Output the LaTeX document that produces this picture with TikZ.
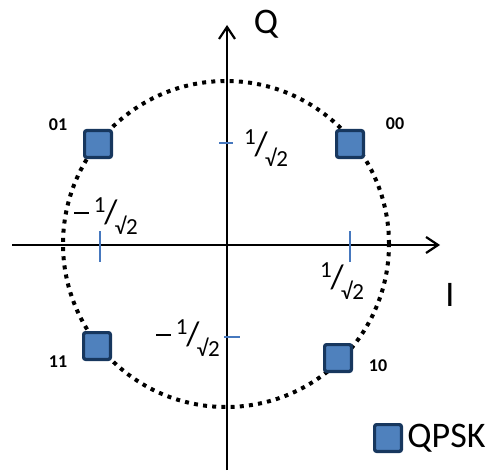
\documentclass[tikz,border=0pt]{standalone}
\usepackage{fontspec}
\setmainfont{Carlito}
\usetikzlibrary{positioning, arrows.meta, calc}
\definecolor{symfill}{RGB}{79,129,189}
\definecolor{symedge}{RGB}{23,55,94}
\definecolor{tickblue}{RGB}{70,120,190}
\newcommand{\halfroot}{\raisebox{0.5em}{1}\kern-0.05em{\fontsize{17}{17}\selectfont/}\kern-0.12em\raisebox{-0.45em}{√2}}
\newcommand{\neghalfroot}{\rule[0.42em]{0.65em}{0.08em}\kern0.2em\halfroot}

\begin{document}
\begin{tikzpicture}[
    x=0.5pt, y=-0.5pt,
    >={Straight Barb[length=6pt,width=8pt]},
    symbol/.style={
        draw=symedge,
        fill=symfill,
        line width=1.6pt,
        rounded corners=1pt,
        minimum size=13.4pt,
        inner sep=0pt
    },
    bits/.style={font=\fontsize{9}{9}\selectfont\bfseries, inner sep=0pt},
    axislabel/.style={font=\fontsize{18}{18}\selectfont, inner sep=0pt},
    frac/.style={font=\fontsize{11.5}{11.5}\selectfont, inner sep=0pt},
    tickmark/.style={draw=tickblue, line width=0.8pt}
]
  \useasboundingbox (0,0) rectangle (496,470);

  % axes
  \coordinate (O) at (226,245);
  \coordinate (west) at (12,245);
  \coordinate (east) at (440,245);
  \coordinate (south) at (227,470);
  \coordinate (north) at (227,25);
  \draw[->,line width=1.1pt] (west) -- (east);
  \draw[->,line width=1.1pt] (south) -- (north);
  \node[axislabel] (qlab) at (266,24) {Q};
  \node[axislabel] (ilab) at (450,295) {I};

  % unit circle
  \draw[line width=2pt, dash pattern=on 2pt off 2.6pt] (226,244) circle[radius=81.5pt];

  % ticks
  \draw[tickmark] (100,231) -- (100,262);
  \draw[tickmark] (350,231) -- (350,262);
  \draw[tickmark] (219,143) -- (233,143);
  \draw[tickmark] (224,337) -- (240,337);
  \node[frac] (fup) at (266,148) {\halfroot};
  \node[frac] (fleft) at (106,216) {\neghalfroot};
  \node[frac] (fright) at (342,281) {\halfroot};
  \node[frac] (fdown) at (188,338) {\neghalfroot};

  % constellation points
  \node[symbol] (s01) at (98,144) {};
  \node[symbol] (s00) at (350,144) {};
  \node[symbol] (s11) at (97,346) {};
  \node[symbol] (s10) at (338,358) {};
  \node[bits] (b01) at (58,125) {01};
  \node[bits] (b00) at (395,124) {00};
  \node[bits] (b11) at (58,362) {11};
  \node[bits] (b10) at (378,366) {10};

  % legend
  \node[symbol] (legend) at (388,438) {};
  \node[axislabel, right=2pt of legend] (qpsk) {QPSK};
\end{tikzpicture}
\end{document}
